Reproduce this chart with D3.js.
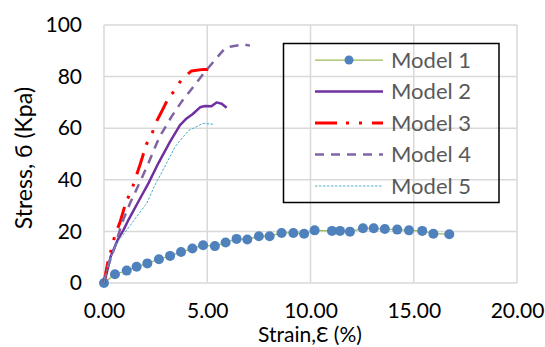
<!DOCTYPE html>
<html>
<head>
<meta charset="utf-8">
<script src="https://cdn.jsdelivr.net/npm/d3@7"></script>
<style>
  body { margin: 0; background: #fff; }
  text { font-family: Lato, "Open Sans", sans-serif; }
</style>
</head>
<body>
<script>
const width = 545;
const height = 347;

// values
const xTicks = [0, 5, 10, 15, 20];
const yTicks = [0, 20, 40, 60, 80, 100];

const m1x = [0, 0.53, 1.1, 1.58, 2.1, 2.66, 3.2, 3.73, 4.28, 4.8, 5.37, 5.89, 6.42, 6.94, 7.5, 8.02, 8.6, 9.17, 9.69, 10.2, 11.04, 11.43, 11.91, 12.54, 13.06, 13.6, 14.2, 14.77, 15.41, 15.95, 16.72];
const m1y = [0, 3.4, 4.8, 6.3, 7.6, 9.2, 10.5, 12, 13.4, 14.6, 14.3, 15.7, 17.1, 16.85, 18.15, 18.15, 19.4, 19.4, 19.1, 20.4, 20.2, 20.2, 19.9, 21.2, 21.2, 20.9, 20.7, 20.4, 20.2, 19.1, 18.9];

const m2x = [0, 0.05, 0.32, 0.7, 0.94, 1.18, 1.66, 2.15, 2.63, 3.2, 3.68, 4.0, 4.3, 4.65, 4.89, 5.2, 5.45, 5.7, 5.94];
const m2y = [0, 1.2, 10.2, 17.3, 20.5, 24.4, 31.5, 38.6, 46.4, 54.8, 61.2, 63.8, 65.5, 68.1, 68.6, 68.5, 70, 69.5, 67.9];

const m3x = [0, 0.05, 0.21, 0.37, 0.53, 0.77, 1.07, 1.34, 1.53, 1.74, 2.05, 2.34, 2.58, 2.87, 3.11, 3.44, 3.76, 4.24, 4.8, 5.05];
const m3y = [0, 2.4, 8.9, 13.4, 18.6, 23.4, 31.5, 36, 40.8, 45.7, 53.7, 58.3, 63.2, 67.7, 71.6, 74.8, 79, 82.2, 82.8, 82.8];

const m4x = [0, 0.13, 0.53, 0.86, 1.26, 1.71, 2.15, 2.55, 2.79, 3.27, 3.76, 4.33, 4.89, 5.37, 5.86, 6.1, 6.74, 7.07];
const m4y = [0, 5, 14.1, 23.1, 30.9, 38.6, 46.4, 54.1, 58, 64.5, 70.3, 76.1, 81.9, 86.4, 91, 91.6, 92.5, 92];

const m5x = [0, 0.21, 0.61, 1.1, 1.58, 2.07, 2.47, 3.03, 3.44, 3.84, 4.13, 4.33, 4.8, 5.33];
const m5y = [0, 7.6, 15.4, 20.5, 25.7, 30.9, 38, 46.4, 52.8, 56.7, 59.3, 60, 61.9, 61.5];

const seriesNames = ["Model 1", "Model 2", "Model 3", "Model 4", "Model 5"];

const series = [
    { name: seriesNames[0], xs: m1x, ys: m1y, color: "#9bbb59", width: 1.25, dash: null, marker: "#4f81bd" },
    { name: seriesNames[1], xs: m2x, ys: m2y, color: "#7030a0", width: 2.5, dash: null },
    { name: seriesNames[2], xs: m3x, ys: m3y, color: "#ff0000", width: 3, dash: "22,9,3,10,3,10" },
    { name: seriesNames[3], xs: m4x, ys: m4y, color: "#8064a2", width: 2.5, dash: "9,7" },
    { name: seriesNames[4], xs: m5x, ys: m5y, color: "#4bacc6", width: 1, dash: "2.5,1.5" }
];

const margin = { left: 104, right: 28, top: 25, bottom: 64 };

const svg = d3.select("body").append("svg")
    .attr("width", width)
    .attr("height", height);

const x = d3.scaleLinear().domain([0, 20]).range([margin.left, width - margin.right]);
const y = d3.scaleLinear().domain([0, 100]).range([height - margin.bottom, margin.top]);

// gridlines
svg.append("g").selectAll("line.h")
    .data(yTicks)
    .join("line")
    .attr("x1", x(0)).attr("x2", x(20))
    .attr("y1", d => y(d)).attr("y2", d => y(d))
    .attr("stroke", "#d9d9d9").attr("stroke-width", 1.5);

svg.append("g").selectAll("line.v")
    .data(xTicks)
    .join("line")
    .attr("x1", d => x(d)).attr("x2", d => x(d))
    .attr("y1", y(0)).attr("y2", y(100))
    .attr("stroke", "#d9d9d9").attr("stroke-width", 1.5);

// axes (labels only, lines come from the grid)
const xAxis = svg.append("g")
    .attr("transform", `translate(0,${y(0)})`)
    .call(d3.axisBottom(x).tickValues(xTicks).tickFormat(d3.format(".2f")).tickSize(0).tickPadding(20));
xAxis.select(".domain").remove();
xAxis.selectAll("text").attr("font-size", 21).attr("fill", "#000").attr("font-family", "Lato, sans-serif");

const yAxis = svg.append("g")
    .attr("transform", `translate(${x(0)},0)`)
    .call(d3.axisLeft(y).tickValues(yTicks).tickSize(0).tickPadding(22));
yAxis.select(".domain").remove();
yAxis.selectAll("text").attr("font-size", 21).attr("fill", "#000").attr("font-family", "Lato, sans-serif");

// axis titles
svg.append("text")
    .attr("x", 310).attr("y", 342)
    .attr("text-anchor", "middle")
    .attr("font-size", 21)
    .attr("fill", "#000")
    .text("Strain,Ɛ (%)");

svg.append("text")
    .attr("transform", "translate(32,158) rotate(-90)")
    .attr("text-anchor", "middle")
    .attr("font-size", 23)
    .attr("fill", "#000")
    .text("Stress, б (Kpa)");

// series
const line = d3.line().x(d => x(d[0])).y(d => y(d[1]));

series.forEach(s => {
    const pts = s.xs.map((v, i) => [v, s.ys[i]]);
    svg.append("path")
        .datum(pts)
        .attr("d", line)
        .attr("fill", "none")
        .attr("stroke", s.color)
        .attr("stroke-width", s.width)
        .attr("stroke-dasharray", s.dash)
        .attr("stroke-linejoin", "round");
    if (s.marker) {
        svg.append("g").selectAll("circle")
            .data(pts)
            .join("circle")
            .attr("cx", d => x(d[0]))
            .attr("cy", d => y(d[1]))
            .attr("r", 5)
            .attr("fill", s.marker);
    }
});

// legend
const legend = svg.append("g");
legend.append("rect")
    .attr("x", 283.5).attr("y", 43.5)
    .attr("width", 215.5).attr("height", 159)
    .attr("fill", "none")
    .attr("stroke", "#000")
    .attr("stroke-width", 1.5);

series.forEach((s, i) => {
    const ly = 60 + i * 31.5;
    legend.append("line")
        .attr("x1", 315).attr("x2", 383)
        .attr("y1", ly).attr("y2", ly)
        .attr("stroke", s.color)
        .attr("stroke-width", s.width)
        .attr("stroke-dasharray", s.dash);
    if (s.marker) {
        legend.append("circle")
            .attr("cx", 349).attr("cy", ly).attr("r", 4.5)
            .attr("fill", s.marker);
    }
    legend.append("text")
        .attr("x", 391).attr("y", ly)
        .attr("dy", "0.36em")
        .attr("font-size", 22)
        .attr("fill", "#595959")
        .text(s.name);
});
</script>
</body>
</html>
